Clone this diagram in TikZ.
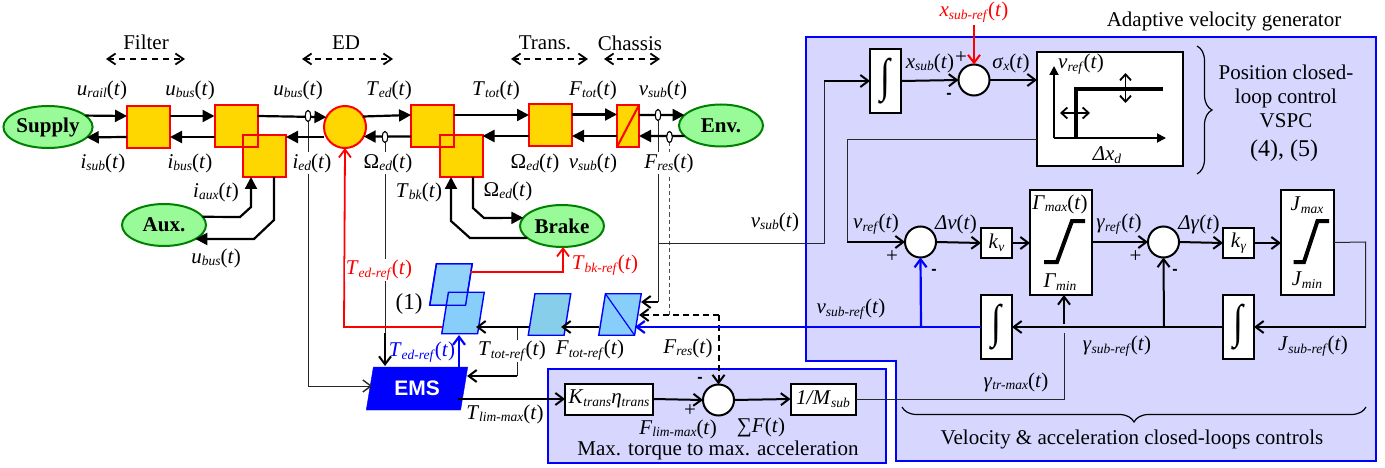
\documentclass[tikz,border=0pt]{standalone}
\usepackage{fontspec}
\setmainfont{Liberation Serif}
\newfontfamily\arialf{Liberation Sans}
\usetikzlibrary{arrows.meta,shapes.geometric,decorations.pathreplacing,calc}
\newcommand\subf{\fontsize{13.5}{14}\selectfont}
\newcommand\Sb[2]{\textit{#1}{\subf\raisebox{-0.4ex}{\textit{#2}}}}
\newcommand\Sg[2]{\Sb{#1}{#2}(\textit{t})}
\newcommand\Om{Ω{\subf\raisebox{-0.4ex}{\textit{ed}}}(\textit{t})}
\definecolor{panel}{HTML}{D6D6FF}
\definecolor{para}{HTML}{87CEFA}
\definecolor{parb}{HTML}{87CEEB}
\definecolor{gold}{HTML}{FFD700}
\definecolor{pale}{HTML}{98FB98}
\definecolor{dgreen}{HTML}{008000}
\tikzset{
  every node/.style={font=\fontsize{21}{24}\selectfont,inner sep=0pt,outer sep=0pt},
  panelbox/.style={draw=blue,line width=2.4,fill=panel},
  gbox/.style={draw=red,fill=gold,line width=2,rectangle},
  gcirc/.style={draw=red,fill=gold,line width=2,circle,minimum size=42},
  pill/.style={draw=dgreen,fill=pale,line width=2,ellipse,minimum width=84,minimum height=42,font=\fontsize{21}{24}\selectfont\bfseries},
  wblock/.style={draw=black,fill=white,line width=2,rectangle},
  scirc/.style={draw=black,fill=white,line width=2,circle,minimum size=31},
  par/.style={draw=blue,line width=1.4,fill=para,trapezium,trapezium left angle=76,trapezium right angle=104,trapezium stretches=true,minimum width=42.5,minimum height=41.5},
  tap/.style={draw=black,fill=white,line width=1,ellipse,minimum width=5.5,minimum height=11},
  heavy/.style={line width=2.2,-{Triangle[length=12,width=12]}},
  barb/.style={line width=2,-{Straight Barb[length=8,width=12,line width=2]}},
  thinw/.style={line width=1,black!85},
  redw/.style={red,line width=1.8},
  dbl/.style={line width=1.8,dashed,dash pattern=on 6pt off 5pt,{Straight Barb[length=8,width=11,line width=1.8]}-{Straight Barb[length=8,width=11,line width=1.8]}},
  wlab/.style={fill=white,inner sep=1pt},
  minusl/.style={font=\fontsize{16}{16}\arialf\bfseries},
}
\begin{document}
\begin{tikzpicture}[x=1pt,y=-1pt]
\useasboundingbox (0,0) rectangle (1385,468);
% panels
\draw[panelbox] (806,37) -- (1376,37) -- (1376,461) -- (896,461) -- (896,361) -- (806,361) -- cycle;
\draw[panelbox] (548,369) rectangle (886,463);
% upper row
\node[pill] (sup) at (48,127) {Supply};
\node[pill] (aux) at (164,225) {Aux.};
\node[pill] (brk) at (562,226) {Brake};
\node[pill] (env) at (721,125.5) {Env.};
\node[gbox,minimum width=43,minimum height=42] (b1) at (148.5,127) {};
\node[gbox,minimum width=43,minimum height=42] (b2) at (236,126.5) {};
\node[gbox,minimum width=43,minimum height=42] (b3) at (264.5,156) {};
\draw[red,line width=2] (b2.north west) rectangle (b2.south east);
\node[gcirc] (cir) at (345,127) {};
\node[gbox,minimum width=43,minimum height=42] (b4) at (432.5,126) {};
\node[gbox,minimum width=43,minimum height=42] (b5) at (461,156) {};
\draw[red,line width=2] (b4.north west) rectangle (b4.south east);
\node[gbox,minimum width=43,minimum height=42] (b6) at (550.5,125.5) {};
\node[gbox,minimum width=22,minimum height=42] (ch) at (628,126) {};
\draw[red,line width=2] (ch.south west) -- (ch.north east);
% taps
\node[tap] (t1) at (308,116) {};
\node[tap] (t2) at (385,137) {};
\node[tap] (t3) at (658,115) {};
\node[tap] (t4) at (669.5,137) {};
% parallelograms and EMS
\node[par,fill=para!90!white] (p1) at (451,284.5) {\phantom{x}};
\node[par] (p2) at (463,313) {\phantom{x}};
\draw[blue,line width=1.4] (p1.top left corner) -- (p1.top right corner) -- (p1.bottom right corner) -- (p1.bottom left corner) -- cycle;
\node[par,fill=parb] (p3) at (549.5,314.5) {\phantom{x}};
\node[par] (p4) at (620,314.5) {\phantom{x}};
\draw[blue,line width=1.2] (p4.top left corner) -- (p4.bottom right corner);
\node[draw=blue,fill=blue,trapezium,trapezium left angle=76,trapezium right angle=104,trapezium stretches=true,minimum width=102,minimum height=43,text=white,font=\fontsize{21}{24}\selectfont\arialf\bfseries] (ems) at (417,388.5) {EMS};
% lower-left blocks
\node[wblock,minimum width=88,minimum height=31] (kb) at (609,399) {\Sb{K}{trans}\Sb{η}{trans}};
\node[scirc] (c3) at (718.5,400) {};
\node[wblock,minimum width=65,minimum height=31] (mb) at (823,399) {\Sb{1/M}{sub}};
% right blocks
\node[wblock,minimum width=31,minimum height=64] (i0) at (885.5,81) {\fontsize{36}{36}\selectfont\scalebox{1}[1.3]{∫}};
\node[scirc] (c0) at (974,80) {};
\node[wblock,minimum width=146,minimum height=114] (map) at (1110,109) {};
\node[scirc] (c1) at (920.5,242) {};
\node[wblock,minimum width=31,minimum height=30] (kv) at (996.5,243) {\Sb{k}{v}};
\node[wblock,minimum width=62,minimum height=105] (gm) at (1061,242.5) {};
\node[scirc] (c2) at (1163.5,242) {};
\node[wblock,minimum width=31,minimum height=30] (kg) at (1238.5,243) {\Sb{k}{γ}};
\node[wblock,minimum width=53,minimum height=105] (jm) at (1307.5,242.5) {};
\node[wblock,minimum width=31,minimum height=64] (i1) at (996.5,327) {\fontsize{36}{36}\selectfont\scalebox{1}[1.3]{∫}};
\node[wblock,minimum width=31,minimum height=64] (i2) at (1238.5,327) {\fontsize{36}{36}\selectfont\scalebox{1}[1.3]{∫}};
% named free points
\coordinate (p2r) at (476,327);
\coordinate (p2l) at (442,327);
\coordinate (p3r) at (561,327);
\coordinate (p3l) at (529,327);
\coordinate (p4l) at (599,327);
\coordinate (p4a) at (641,302);
\coordinate (p4b) at (639,315);
\coordinate (p4c) at (635,327);
\coordinate (p1r) at (470,272);
\coordinate (p2b) at (459,335);
\coordinate (emsl) at (372,386);
\coordinate (emsr) at (467,376);
\coordinate (emso) at (458,399);
\coordinate (emst) at (385,366);
\coordinate (emsb) at (459,367);
\coordinate (a517) at (517,327);
\coordinate (a921) at (921,327);
\coordinate (a1164) at (1164,327);
\coordinate (fin) at (1064,324);
\coordinate (d1) at (718.5,315);
\coordinate (a658) at (658,243);
% thin signal lines
\draw[thinw,-{Straight Barb[length=8,width=12,line width=1.4]}] (t1.south) -- (308,386) -- (emsl);
\draw[thinw] (t2.south) -- (385,333);
\draw[thinw] (t3.south) -- (658,302);
\draw[thinw,dash pattern=on 4pt off 3pt,black!70,line width=1.2] (t4.south) -- (669.5,315);
\draw[thinw] (a658) -- (824,243) -- (824,81);
\draw[barb] (824,81) -- (i0.west |- 0,81);
\draw[thinw] (map.west |- 0,140) -- (847,140) -- (847,242);
\draw[barb] (847,242) -- (c1.west);
\draw[thinw] (mb.east) -- (1064,399) -- (1064,333);
\draw[thinw] (a517) -- (517,376);
\draw[thinw] (jm.east) -- (1365.5,242) -- (1365.5,327);
% heavy upper wires
\draw[heavy] (sup.17) -- (b1.west |- 0,116);
\draw[heavy] (b1.west |- 0,137) -- (sup.-15);
\draw[heavy] (b1.east |- 0,116) -- (b2.west |- 0,116);
\draw[heavy] (b2.west |- 0,137) -- (b1.east |- 0,137);
\draw[heavy] (b2.east |- 0,116) -- (cir.152);
\draw[heavy] (cir.west |- 0,137) -- (b3.east |- 0,137);
\draw[heavy] (cir.30) -- (b4.west |- 0,115);
\draw[heavy] (b4.west |- 0,136.5) -- (cir.-27);
\draw[heavy] (b4.east |- 0,115) -- (b6.west |- 0,115);
\draw[heavy] (b6.west |- 0,136) -- (b5.east |- 0,136);
\draw[heavy] (ch.west |- 0,136) -- (b6.east |- 0,136);
\draw[heavy] (b6.east |- 0,114.5) -- (ch.west |- 0,114.5);
\draw[heavy] (ch.east |- 0,115) -- (env.164);
\draw[heavy] (env.196) -- (ch.east |- 0,136);
\draw[heavy] (aux.12) -- (240,217) -- (251,207) -- (b3.south -| 251,0);
\draw[heavy] (b3.south -| 274,0) -- (274,220) -- (254,239) -- (aux.-24);
\draw[heavy] (b5.south -| 473,0) -- (473,208) -- (484,218) -- (brk.168);
\draw[heavy] (brk.199) -- (470,238) -- (451,221) -- (b5.south -| 451,0);
% redraw taps over wires
\node[tap] (t1b) at (t1) {};
\node[tap] (t2b) at (t2) {};
\node[tap] (t3b) at (t3) {};
\node[tap] (t4b) at (t4) {};
% red
\draw[redw,-{Straight Barb[length=8,width=12,line width=1.8]}] (p2l) -- (344,327) -- (cir.south);
\draw[redw,-{Straight Barb[length=8,width=12,line width=1.8]}] (p1r) -- (563,272) -- (brk.south -| 563,0);
\draw[red,line width=2,-{Straight Barb[length=8,width=12,line width=2]}] (974,25) -- (c0.north);
% lower middle
\draw[barb] (385,333) -- (emst);
\draw[barb] (p3l) -- (p2r);
\draw[barb] (p4l) -- (p3r);
\draw[barb] (517,376) -- (emsr);
\draw[barb] (658,302) -- (p4a);
\draw[barb,dashed,dash pattern=on 6pt off 4pt] (d1) -- (p4b);
\draw[barb,dashed,dash pattern=on 6pt off 4pt] (d1) -- (c3.north);
\draw[blue,line width=2.2,-{Straight Barb[length=8,width=12,line width=2.2]}] (emsb) -- (p2b);
\draw[barb] (emso) -- (kb.west);
\draw[barb] (kb.east) -- (c3.west);
\draw[barb] (c3.east) -- (mb.west);
% right upper
\draw[barb] (i0.east |- 0,81) -- (c0.west);
\draw[barb] (c0.east) -- (map.west |- 0,80);
% map inside
\coordinate (ax0) at (1054,138);
\draw[line width=1.8,-{Triangle[length=9,width=9]}] (ax0) -- (1054,66);
\draw[line width=1.8,-{Triangle[length=9,width=9]}] (ax0) -- (1166,138);
\draw[line width=4] (1076,138) -- (1076,89) -- (1163,89);
\draw[line width=1.8,{Straight Barb[length=6,width=11,line width=1.8]}-{Straight Barb[length=6,width=11,line width=1.8]}] (1125.5,73) -- (1125.5,103);
\draw[line width=1.8,{Straight Barb[length=6,width=11,line width=1.8]}-{Straight Barb[length=6,width=11,line width=1.8]}] (1060,113) -- (1090,113);
% right lower
\draw[barb] (c1.east) -- (kv.west);
\draw[barb] (kv.east) -- (gm.west |- kv.east);
\draw[barb] (gm.east |- 0,242) -- (c2.west);
\draw[barb] (c2.east) -- (kg.west);
\draw[barb] (kg.east) -- (jm.west |- kg.east);
\draw[barb] (1365.5,327) -- (i2.east);
\draw[barb] (i2.west) -- (i1.east);
\draw[blue,line width=2.2,-{Straight Barb[length=8,width=12,line width=2.2]}] (i1.west) -- (p4c);
\draw[blue,line width=2.2,-{Straight Barb[length=8,width=12,line width=2.2]}] (a921) -- (c1.south);
\draw[barb] (a1164) -- (c2.south);
\draw[barb] (fin) -- (gm.south -| 1064,0);
\draw[line width=4] (1044,262) -- (1057,262) -- (1072,221) -- (1085,221);
\draw[line width=4] (1293.5,262) -- (1304,262) -- (1317.5,221) -- (1329,221);
% braces
\coordinate (br1a) at (1197,46);
\coordinate (br1b) at (1197,174);
\coordinate (br2a) at (1366,407);
\coordinate (br2b) at (902,407);
\draw[line width=1.2,decorate,decoration={brace,amplitude=15}] (br1a) -- (br1b);
\draw[line width=1.2,decorate,decoration={brace,amplitude=15}] (br2a) -- (br2b);
% dashed range arrows
\coordinate (r1a) at (106,59); \coordinate (r1b) at (185,59);
\coordinate (r2a) at (302,59); \coordinate (r2b) at (393,59);
\coordinate (r3a) at (511,59); \coordinate (r3b) at (588,59);
\coordinate (r4a) at (604,59); \coordinate (r4b) at (660,59);
\draw[dbl] (r1a) -- (r1b);
\draw[dbl] (r2a) -- (r2b);
\draw[dbl] (r3a) -- (r3b);
\draw[dbl] (r4a) -- (r4b);
% labels: top
\node (lf) at (146,42) {Filter};
\node (led) at (346,43) {ED};
\node (ltr) at (545,43) {Trans.};
\node (lch) at (630,43) {Chassis};
\node (l1) at (102,90) {\Sg{u}{rail}};
\node (l2) at (190,90) {\Sg{u}{bus}};
\node (l3) at (298,90) {\Sg{u}{bus}};
\node (l4) at (389,90) {\Sg{T}{ed}};
\node (l5) at (496,90) {\Sg{T}{tot}};
\node (l6) at (593,90) {\Sg{F}{tot}};
\node (l7) at (663,90) {\Sg{v}{sub}};
\node (l8) at (103,163) {\Sg{i}{sub}};
\node (l9) at (190,163) {\Sg{i}{bus}};
\node[wlab] (l10) at (312,163) {\Sg{i}{ed}};
\node[wlab] (l11) at (388,163) {\Om};
\node (l12) at (535,163) {\Om};
\node (l13) at (593,163) {\Sg{v}{sub}};
\node[wlab] (l14) at (669,163) {\Sg{F}{res}};
\node (l15) at (216,192) {\Sg{i}{aux}};
\node (l16) at (216,258) {\Sg{u}{bus}};
\node (l17) at (419,192) {\Sg{T}{bk}};
\node (l18) at (508,191) {\Om};
\node (l19) at (775,222) {\Sg{v}{sub}};
\node[wlab,text=red] (l20) at (379,270) {\Sg{T}{ed-ref}};
\node[text=red] (l21) at (605,265) {\Sg{T}{bk-ref}};
\node (l22) at (409,304) {\fontsize{23}{24}\selectfont(1)};
\node[text=blue] (l23) at (422,352) {\Sg{T}{ed-ref}};
\node[wlab] (l24) at (512,351) {\Sg{T}{tot-ref}};
\node (l25) at (590,350) {\Sg{F}{tot-ref}};
\node[wlab] (l26) at (688,348) {\Sg{F}{res}};
\node (l27) at (505,414) {\Sg{T}{lim-max}};
\node[minusl] (l28) at (700,380) {-};
\node (l29) at (690,411) {+};
\node (l30) at (678,429) {\Sg{F}{lim-max}};
\node (l31) at (761,427) {∑\textit{F}(\textit{t})};
\node (l32) at (718,450) {Max. torque to max. acceleration};
% labels: right
\node[text=red] (l33) at (974,12) {\Sg{x}{sub-ref}};
\node (l34) at (1224,21) {Adaptive velocity generator};
\node (l35) at (930,63) {\Sg{x}{sub}};
\node (l36) at (961,58) {+};
\node[minusl] (l37) at (949,96) {-};
\node (l38) at (1011,63) {\textit{σ}{\subf\raisebox{-0.4ex}{\textit{x}}}(\textit{t})};
\node (l39) at (1081,64) {\Sg{v}{ref}};
\node (l40) at (1107,155) {\textit{Δx}{\subf\raisebox{-0.4ex}{\textit{d}}}};
\node[align=center] (l41) at (1286,96) {Position closed-\\loop control\\VSPC};
\node (l42) at (1284,151) {\fontsize{24}{24}\selectfont(4), (5)};
\node (l43) at (876,224) {\Sg{v}{ref}};
\node (l44) at (892,257) {+};
\node[minusl] (l45) at (934,272) {-};
\node (l46) at (956,224) {\textit{Δv}(\textit{t})};
\node (l47) at (1060,204) {\Sg{Γ}{max}};
\node (l48) at (1060,282) {\Sb{Γ}{min}};
\node (l49) at (1119,224) {\Sg{γ}{ref}};
\node (l50) at (1135.5,257) {+};
\node[minusl] (l51) at (1175,272) {-};
\node (l52) at (1199,224) {\textit{Δγ}(\textit{t})};
\node (l53) at (1307,205) {\Sb{J}{max}};
\node (l54) at (1307,280) {\Sb{J}{min}};
\node (l55) at (851,309) {\Sg{v}{sub-ref}};
\node (l56) at (1117,346) {\Sg{γ}{sub-ref}};
\node (l57) at (1313,346) {\Sg{J}{sub-ref}};
\node (l58) at (1016,382) {\Sg{γ}{tr-max}};
\node (l59) at (1132,439) {Velocity \& acceleration closed-loops controls};
\end{tikzpicture}
\end{document}
